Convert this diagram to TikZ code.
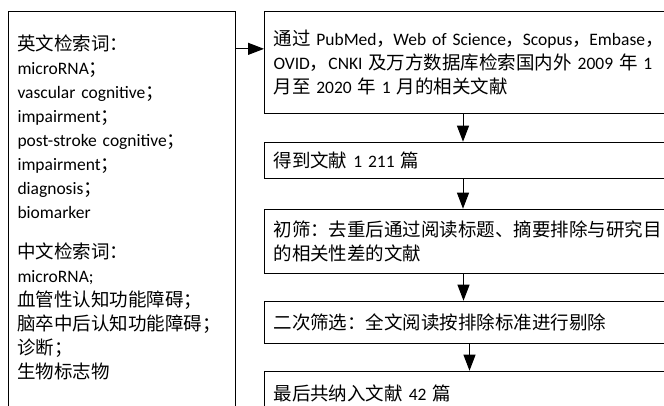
\documentclass[tikz,border=0pt]{standalone}
\usepackage{fontspec}
\setmainfont{Carlito}
\newfontfamily\cjk{Noto Sans CJK SC}[Scale=1.057]
\newcommand{\zh}[1]{{\cjk #1}}
\newcommand{\zhcomma}{\makebox[11pt][l]{\zh{，}}}
\usetikzlibrary{arrows.meta, positioning}

\begin{document}
\begin{tikzpicture}[
  node distance=28pt,
  font={\fontsize{17.5pt}{24pt}\selectfont},
  % search terms = tall box on the left
  keybox/.style={rectangle, draw=black, line width=1pt, text width=208.5pt, align=left, inner xsep=9.5pt, inner ysep=15pt, anchor=north west},
  % screening steps = wide boxes on the right
  stepbox/.style={rectangle, draw=black, line width=1pt, text width=392pt, minimum width=410pt, align=left, inner xsep=9pt, inner ysep=4pt},
  arrow/.style={line width=1pt, -{Triangle[length=16pt, width=12pt]}}
]
\useasboundingbox (0,0) rectangle (664pt,-406pt);
\clip (0,0) rectangle (664pt,-406pt);

% ---- Search terms (left) ----
\node[keybox] (kw) at (7.5pt,-11pt) {\mbox{}\\
  \zh{英文检索词：}\\
  microRNA\zh{；}\\
  vascular cognitive\zh{；}\\
  impairment\zh{；}\\
  post-stroke cognitive\zh{；}\\
  impairment\zh{；}\\
  diagnosis\zh{；}\\
  biomarker\\[16pt]
  \zh{中文检索词：}\\
  microRNA;\\
  \zh{血管性认知功能障碍；}\\
  \zh{脑卒中后认知功能障碍；}\\
  \zh{诊断；}\\
  \zh{生物标志物}\\[40pt]\mbox{}};

% ---- Screening steps (right) ----
\node[stepbox, minimum height=101.7pt, anchor=north west] (s1) at (264pt,-11pt) {%
  \makebox[389pt][s]{\zh{通过} PubMed\zhcomma{} Web of Science\zhcomma{} Scopus\zhcomma{} Embase\zhcomma}\\
  \makebox[389pt][s]{OVID\zh{，}CNKI \zh{及万方数据库检索国内外} 2009 \zh{年} 1}\\
  \zh{月至} 2020 \zh{年} 1 \zh{月的相关文献}};
\node[stepbox, minimum height=36pt, below=of s1] (s2) {\zh{得到文献} 1 211 \zh{篇}};
\node[stepbox, minimum height=64pt, below=30pt of s2] (s3) {\zh{初筛：去重后通过阅读标题、摘要排除与研究目}\\
  \zh{的相关性差的文献}};
\node[stepbox, minimum height=42pt, below=27pt of s3] (s4) {\zh{二次筛选：全文阅读按排除标准进行剔除}};
\node[stepbox, minimum height=44pt, below=27pt of s4] (s5) {\zh{最后共纳入文献} 42 \zh{篇}};

% ---- Flows ----
\coordinate (in) at ([yshift=13.5pt]s1.west);
\draw[arrow] (in -| kw.east) -- (in);
\draw[arrow] ([xshift=-6.5pt]s1.south) -- ([xshift=-6.5pt]s2.north);
\draw[arrow] ([xshift=-6.5pt]s2.south) -- ([xshift=-6.5pt]s3.north);
\draw[arrow] ([xshift=-6pt]s3.south) -- ([xshift=-6pt]s4.north);
\draw[arrow] (s4) -- (s5);

\end{tikzpicture}
\end{document}
